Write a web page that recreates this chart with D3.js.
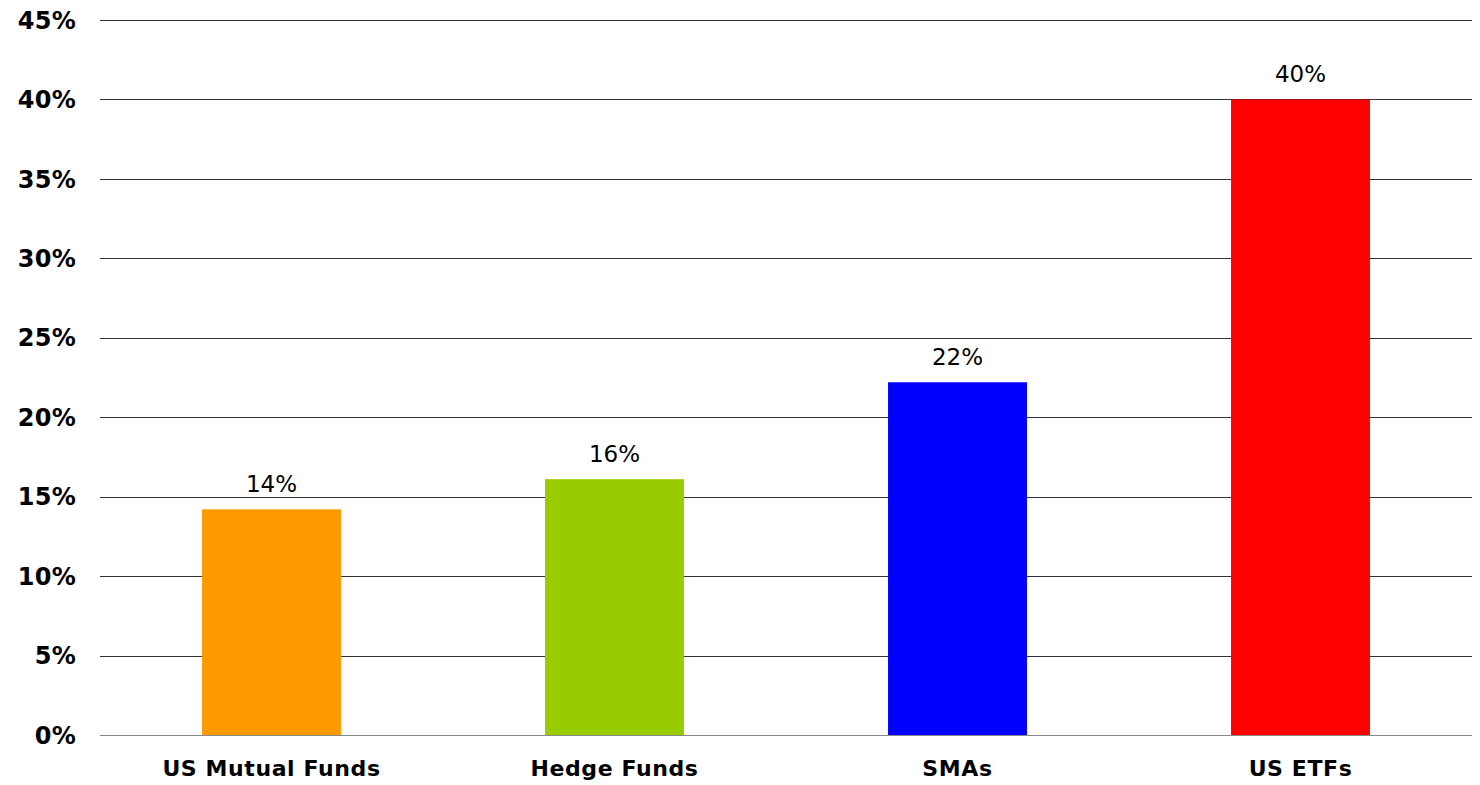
<!DOCTYPE html>
<html>
<head>
<meta charset="utf-8">
<script src="https://cdn.jsdelivr.net/npm/d3@7"></script>
<style>
	body { margin: 0; background: #fff; }
	svg { display: block; font-family: "DejaVu Sans", Verdana, sans-serif; }
</style>
</head>
<body>
<svg class="canvas"></svg>
<script>
const categories = ["US Mutual Funds", "Hedge Funds", "SMAs", "US ETFs"];
const values = [14.2, 16.1, 22.2, 40.0];
const labels = ["14%", "16%", "22%", "40%"];
const colors = ["#FF9900", "#99CC00", "#0000FF", "#FF0000"];
const yTicks = [0, 5, 10, 15, 20, 25, 30, 35, 40, 45];

const width = 1480;
const height = 785;
const margin = { top: 20, right: 8, bottom: 50, left: 100 };

const svg = d3.select(".canvas")
	.attr("width", width)
	.attr("height", height);

const x = d3.scaleBand()
	.domain(categories)
	.range([margin.left, width - margin.right])
	.paddingInner(0.595)
	.paddingOuter(0.2975);

const y = d3.scaleLinear()
	.domain([0, 45])
	.range([height - margin.bottom, margin.top]);

// gridlines
svg.append("g")
	.selectAll("line")
	.data(yTicks)
	.join("line")
	.attr("x1", margin.left)
	.attr("x2", width - margin.right)
	.attr("y1", d => Math.round(y(d)) + 0.5)
	.attr("y2", d => Math.round(y(d)) + 0.5)
	.attr("stroke", d => d === 0 ? "#888" : "#333")
	.attr("stroke-width", 1);

// y tick labels
svg.append("g")
	.selectAll("text")
	.data(yTicks)
	.join("text")
	.attr("x", 76)
	.attr("y", d => y(d))
	.attr("dy", "0.36em")
	.attr("text-anchor", "end")
	.attr("font-size", 24)
	.attr("font-weight", "bold")
	.attr("letter-spacing", 0.3)
	.attr("fill", "#000")
	.text(d => d + "%");

// bars
svg.append("g")
	.selectAll("rect")
	.data(values)
	.join("rect")
	.attr("x", (d, i) => x(categories[i]))
	.attr("y", d => y(d))
	.attr("width", x.bandwidth())
	.attr("height", d => y(0) - y(d))
	.attr("fill", (d, i) => colors[i]);

// value labels
svg.append("g")
	.selectAll("text")
	.data(values)
	.join("text")
	.attr("x", (d, i) => x(categories[i]) + x.bandwidth() / 2)
	.attr("y", d => y(d) - 17)
	.attr("text-anchor", "middle")
	.attr("font-size", 23)
	.attr("fill", "#000")
	.text((d, i) => labels[i]);

// category labels
svg.append("g")
	.selectAll("text")
	.data(categories)
	.join("text")
	.attr("x", d => x(d) + x.bandwidth() / 2)
	.attr("y", 776)
	.attr("text-anchor", "middle")
	.attr("font-size", 22)
	.attr("font-weight", "bold")
	.attr("letter-spacing", 0.6)
	.attr("fill", "#000")
	.text(d => d);
</script>
</body>
</html>
